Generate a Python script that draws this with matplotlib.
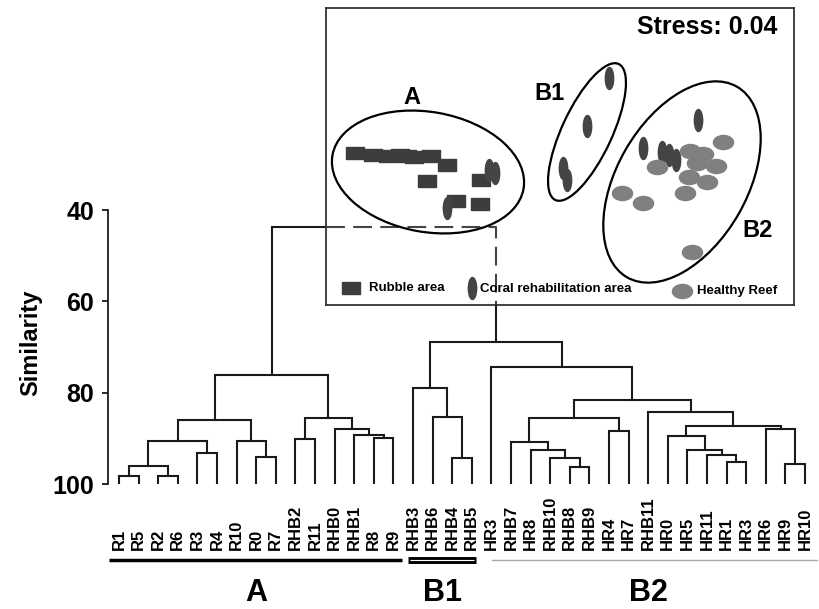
import numpy as np
import matplotlib
matplotlib.use('Agg')
import matplotlib.pyplot as plt
from matplotlib.patches import Ellipse
from matplotlib.path import Path
from matplotlib.transforms import Affine2D

plt.rcParams['font.family'] = ['Liberation Sans', 'DejaVu Sans']
plt.rcParams['font.weight'] = 'bold'

# Leaves of the dendrogram, left to right
leaves = ['R1', 'R5', 'R2', 'R6', 'R3', 'R4', 'R10', 'R0', 'R7', 'RHB2', 'R11',
          'RHB0', 'RHB1', 'R8', 'R9', 'RHB3', 'RHB6', 'RHB4', 'RHB5', 'HR3',
          'RHB7', 'HR8', 'RHB10', 'RHB8', 'RHB9', 'HR4', 'HR7', 'RHB11', 'HR0',
          'HR5', 'HR11', 'HR1', 'HR3', 'HR6', 'HR9', 'HR10']

# Merges: (left node, right node, similarity); new node ids start at len(leaves)
merge_left = [0, 2, 36, 4, 38, 7, 6, 40, 9, 13, 12, 11, 44, 43, 17, 16, 15,
              23, 22, 21, 20, 25, 56, 31, 30, 29, 28, 34, 33, 62, 27, 58, 19, 52, 49]
merge_right = [1, 3, 37, 5, 39, 8, 41, 42, 10, 14, 45, 46, 47, 48, 18, 50, 51,
               24, 53, 54, 55, 26, 57, 32, 59, 60, 61, 35, 63, 64, 65, 66, 67, 68, 69]
merge_sim = [98.2, 98.2, 96.0, 93.3, 90.5, 94.1, 90.5, 86.0, 90.1, 89.9, 89.3,
             88.0, 85.6, 76.1, 94.4, 85.3, 78.9, 96.3, 94.3, 92.5, 90.7, 88.4,
             85.6, 95.2, 93.6, 92.5, 89.5, 95.7, 87.9, 87.2, 84.2, 81.5, 74.3,
             69.0, 43.8]

# Cluster groups shown under the labels
group_names = ['A', 'B1', 'B2']
group_first = [0, 15, 19]
group_last = [14, 18, 35]

# NMDS ordination (inset)
rubble_x = [29, 47, 62, 74, 81, 88, 105, 121, 101, 155, 130, 154]
rubble_y = [152, 150, 149, 150, 149, 148, 149, 140, 124, 125, 104, 101]
coral_x = [163, 169, 121, 283, 261, 237, 241, 372, 317, 336, 343, 350]
coral_y = [135, 132, 97, 227, 179, 137, 125, 185, 157, 153, 150, 145]
healthy_x = [397, 364, 377, 371, 390, 331, 363, 381, 359, 296, 317, 366]
healthy_y = [163, 154, 151, 142, 139, 138, 128, 123, 112, 112, 102, 53]
stress = 0.04

fig = plt.figure(figsize=(8.19, 6.09), dpi=100)
ax = fig.add_axes([108 / 819, 1 - 484 / 609, 711 / 819, 274 / 609])
ax.set_xlim(-11 / 19.6, 700 / 19.6)
ax.set_ylim(100, 40)

# positions of every node (midpoint of children, like scipy)
node_x = list(np.arange(len(leaves), dtype=float))
node_y = [100.0] * len(leaves)
lc = '#1a1a1a'
for l, r, s in zip(merge_left, merge_right, merge_sim):
    xl, xr = node_x[l], node_x[r]
    ax.plot([xl, xl, xr, xr], [node_y[l], s, s, node_y[r]], color=lc, lw=1.5,
            solid_joinstyle='miter')
    node_x.append((xl + xr) / 2)
    node_y.append(s)

for sp in ['top', 'right', 'bottom']:
    ax.spines[sp].set_visible(False)
ax.spines['left'].set_linewidth(1.3)
ax.spines['left'].set_color(lc)
ax.set_yticks([40, 60, 80, 100])
ax.tick_params(axis='y', length=4, width=1.3, color=lc, labelsize=18, pad=6)
ax.set_xticks([])
ax.set_ylabel('Similarity', fontsize=17, fontweight='bold')
ax.yaxis.set_label_coords(-0.093, 0.515)

tr = ax.get_xaxis_transform()
for i, name in enumerate(leaves):
    ax.text(i, -0.241, name, rotation=90, ha='center', va='bottom',
            fontsize=12, fontweight='bold', transform=tr)

for name, a, b in zip(group_names, group_first, group_last):
    if name == 'A':
        ax.plot([a - 0.5, b + 0.45], [-0.277, -0.277], color='black', lw=2.5,
                transform=tr, clip_on=False, solid_capstyle='butt')
    elif name == 'B1':
        ax.plot([a - 0.25, b + 0.2], [-0.277, -0.277], color='black', lw=5,
                transform=tr, clip_on=False, solid_capstyle='butt')
        ax.plot([a - 0.15, b + 0.1], [-0.277, -0.277], color='white', lw=0.8,
                transform=tr, clip_on=False, solid_capstyle='butt')
    else:
        ax.plot([a + 0.05, b + 0.6], [-0.277, -0.277], color='#aaaaaa', lw=1,
                transform=tr, clip_on=False)
    ax.text((a + b) / 2, -0.398, name, ha='center', va='center', fontsize=22,
            fontweight='bold', transform=tr)

# ---- NMDS inset ----
ins = fig.add_axes([326 / 819, 1 - 305 / 609, 468 / 819, 297 / 609])
ins.set_xlim(0, 468)
ins.set_ylim(0, 297)
ins.set_xticks([])
ins.set_yticks([])
for sp in ins.spines.values():
    sp.set_linewidth(1.3)
    sp.set_color('#333333')

# root link continues dashed behind the inset
rl, rr = merge_left[-1], merge_right[-1]
ins.plot([node_x[rl], node_x[rr], node_x[rr]], [merge_sim[-1], merge_sim[-1], node_y[rr]],
         transform=ax.transData, color='#444444', lw=1.5, dashes=(9, 4))

rect = [(-1, -0.75), (1, -0.75), (1, 0.75), (-1, 0.75), (-1, -0.75)]
tall = Path.unit_circle().transformed(Affine2D().scale(0.38, 1))
wide = Path.unit_circle().transformed(Affine2D().scale(1, 0.7))

ins.scatter(rubble_x, rubble_y, marker=rect, s=150, color='#3d3d3d', zorder=3)
ins.scatter(coral_x, coral_y, marker=tall, s=250, color='#444444', zorder=3)
ins.scatter(healthy_x, healthy_y, marker=wide, s=210, color='#808080', zorder=3)

ell_cx = [102, 261, 356]
ell_cy = [133, 173, 123]
ell_w = [194, 150, 220]
ell_h = [120, 50, 130]
ell_ang = [-10, 65, 60]
for cx, cy, w, h, a in zip(ell_cx, ell_cy, ell_w, ell_h, ell_ang):
    ins.add_patch(Ellipse((cx, cy), w, h, angle=a, fill=False, ec='black', lw=1.6,
                          zorder=4))

ins.text(86, 208, 'A', fontsize=17, fontweight='bold', ha='center', va='center')
ins.text(223, 212, 'B1', fontsize=17, fontweight='bold', ha='center', va='center')
ins.text(432, 75, 'B2', fontsize=17, fontweight='bold', ha='center', va='center')
ins.text(451, 278, 'Stress: %.2f' % stress, fontsize=18, fontweight='bold',
         ha='right', va='center')

# legend row
ins.scatter([25], [17], marker=rect, s=150, color='#3d3d3d')
ins.text(43, 17, 'Rubble area', fontsize=9.5, fontweight='bold', va='center')
ins.scatter([146], [17], marker=tall, s=250, color='#444444')
ins.text(154, 16, 'Coral rehabilitation area', fontsize=9.5, fontweight='bold', va='center')
ins.scatter([356], [14], marker=wide, s=210, color='#808080')
ins.text(371, 14, 'Healthy Reef', fontsize=9.5, fontweight='bold', va='center')

fig.savefig('out.png', dpi=100)
